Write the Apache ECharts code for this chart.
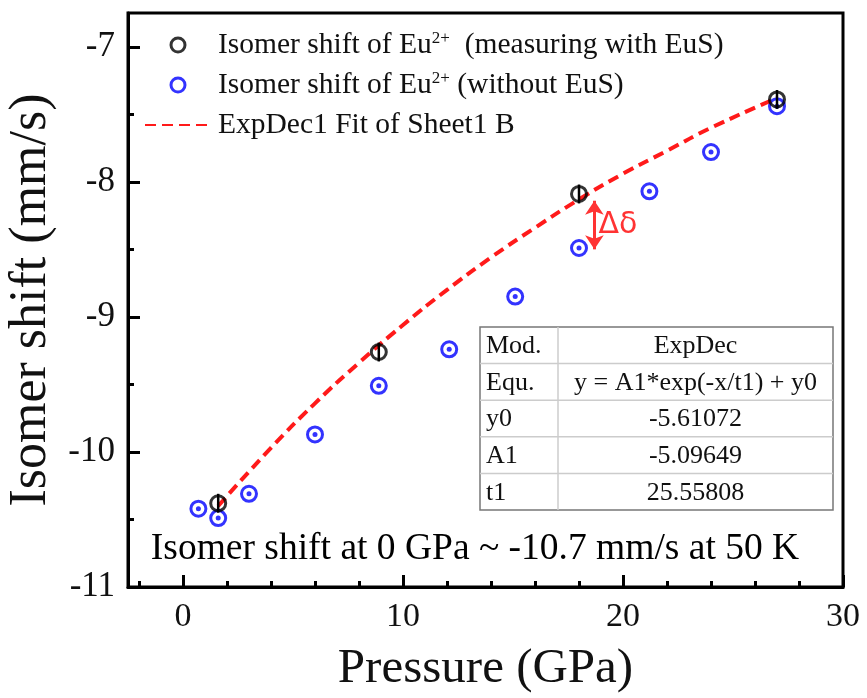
<!DOCTYPE html>
<html>
<head>
<meta charset="utf-8">
<script src="https://cdn.jsdelivr.net/npm/echarts@6/dist/echarts.min.js"></script>
<style>html,body{margin:0;padding:0;background:#fff}#c{width:867px;height:698px}</style>
</head>
<body>
<div id="c"></div>
<script>
// ---- data ----
const withEuS_x = [1.6, 8.9, 18.0, 27.0];
const withEuS_y = [-10.38, -9.26, -8.09, -7.39];
const withEuS_err = [0.07, 0.07, 0.07, 0.07];
const withoutEuS_x = [0.7, 1.6, 3.0, 6.0, 8.9, 12.1, 15.1, 18.0, 21.2, 24.0, 27.0];
const withoutEuS_y = [-10.42, -10.49, -10.31, -9.87, -9.51, -9.24, -8.85, -8.49, -8.07, -7.78, -7.44];
const fit_x = [1.6, 4, 6, 8, 10, 12, 14, 16, 18, 20, 22, 24, 27];
const fit_y = [-10.40, -9.97, -9.64, -9.34, -9.06, -8.80, -8.56, -8.34, -8.13, -7.94, -7.77, -7.60, -7.38];
const xMajorTicks = [0, 10, 20, 30];
const xMinorTicks = [-2, 2, 4, 6, 8, 12, 14, 16, 18, 22, 24, 26, 28];
const yMajorTicks = [-11, -10, -9, -8, -7];
const yMinorTicks = [-10.5, -9.5, -8.5, -7.5];
const deltaArrow = [[18.7, -8.14], [18.7, -8.50]];
const tableRows = [
  ['Mod.', 'ExpDec'],
  ['Equ.', 'y = A1*exp(-x/t1) + y0'],
  ['y0', '-5.61072'],
  ['A1', '-5.09649'],
  ['t1', '25.55808']
];
const noteText = 'Isomer shift at 0 GPa ~ -10.7 mm/s at 50 K';
const seriesNames = ['Isomer shift of Eu2+  (measuring with EuS)', 'Isomer shift of Eu2+ (without EuS)', 'ExpDec1 Fit of Sheet1 B'];

const FONT = '"Liberation Serif", "Times New Roman", serif';
const chart = echarts.init(document.getElementById('c'), null, {renderer: 'canvas'});

const G = {left: 128, top: 13, right: 867 - 843, bottom: 698 - 587};
const zip = (a, b) => a.map((v, i) => [v, b[i]]);
const BLUE = '#0000ff';

// table graphic
const tL = 480, tR = 833, tT = 327, rowH = 36.6, colX = 558;
const tableEls = [];
tableEls.push({type: 'rect', shape: {x: tL, y: tT, width: tR - tL, height: rowH * tableRows.length},
  style: {fill: '#fff', stroke: '#777', lineWidth: 1.5}, z: 50});
for (let i = 1; i < tableRows.length; i++) {
  tableEls.push({type: 'line', shape: {x1: tL, y1: tT + rowH * i, x2: tR, y2: tT + rowH * i},
    style: {stroke: '#ccc', lineWidth: 1.5}, z: 51});
}
tableEls.push({type: 'line', shape: {x1: colX, y1: tT, x2: colX, y2: tT + rowH * tableRows.length},
  style: {stroke: '#ccc', lineWidth: 1.5}, z: 51});
tableRows.forEach((r, i) => {
  tableEls.push({type: 'text', x: tL + 6, y: tT + rowH * i + rowH / 2 + 1,
    style: {text: r[0], font: '26px ' + FONT, fill: '#111', verticalAlign: 'middle', align: 'left'}, z: 52});
  tableEls.push({type: 'text', x: (colX + tR) / 2, y: tT + rowH * i + rowH / 2 + 1,
    style: {text: r[1], font: '26px ' + FONT, fill: '#111', verticalAlign: 'middle', align: 'center'}, z: 52});
});
tableEls.push({type: 'text', x: 475, y: 549,
  style: {text: noteText, font: '37.5px ' + FONT, fill: '#000', verticalAlign: 'middle', align: 'center'}, z: 52});

const option = {
  animation: false,
  backgroundColor: '#fff',
  grid: Object.assign({show: true, borderColor: '#000', borderWidth: 3, backgroundColor: 'transparent', outerBoundsMode: 'none', containLabel: false}, G),
  legend: {
    orient: 'vertical', left: 139, top: 25, itemWidth: 66, itemHeight: 14, itemGap: 9,
    data: [
      {name: seriesNames[0], itemStyle: {borderWidth: 3, borderColor: '#000', color: 'rgba(255,255,255,0)'}},
      {name: seriesNames[1], itemStyle: {borderWidth: 3, borderColor: BLUE, color: 'rgba(255,255,255,0)'}},
      {name: seriesNames[2], itemStyle: {opacity: 0}}
    ],
    formatter: function (name) {
      if (name.indexOf('Eu2+') >= 0) {
        const parts = name.split('Eu2+');
        return '{t|' + parts[0] + 'Eu}{s|2+}{t|' + parts[1] + '}';
      }
      return '{t|' + name + '}';
    },
    textStyle: {
      fontFamily: FONT, fontSize: 29.5, color: '#111', padding: [0, 0, 0, 2], lineHeight: 30,
      rich: {
        t: {fontFamily: FONT, fontSize: 29.5, color: '#111', lineHeight: 30},
        s: {fontFamily: FONT, fontSize: 17, color: '#111', verticalAlign: 'top', lineHeight: 30, padding: [0, 0, 14, 0]}
      }
    }
  },
  xAxis: [{
    type: 'value', min: -2.5, max: 30, gridIndex: 0,
    name: 'Pressure (GPa)', nameLocation: 'middle', nameGap: 58,
    nameTextStyle: {fontFamily: FONT, fontSize: 49, color: '#111'},
    axisLine: {show: true, onZero: false, lineStyle: {color: '#000', width: 3}},
    axisTick: {show: true, inside: true, length: 12, customValues: xMajorTicks, lineStyle: {color: '#000', width: 3}},
    axisLabel: {customValues: xMajorTicks, fontFamily: FONT, fontSize: 34, color: '#111', margin: 13},
    splitLine: {show: false}
  }, {
    type: 'value', min: -2.5, max: 30, gridIndex: 0, position: 'bottom',
    axisLine: {show: false, onZero: false},
    axisTick: {show: true, inside: true, length: 6, customValues: xMinorTicks, lineStyle: {color: '#000', width: 3}},
    axisLabel: {show: false},
    splitLine: {show: false}
  }],
  yAxis: [{
    type: 'value', min: -11, max: -6.75,
    name: 'Isomer shift (mm/s)', nameLocation: 'middle', nameGap: 64,
    nameTextStyle: {fontFamily: FONT, fontSize: 52, color: '#111'},
    axisLine: {show: true, onZero: false, lineStyle: {color: '#000', width: 3}},
    axisTick: {show: true, inside: true, length: 12, customValues: yMajorTicks, lineStyle: {color: '#000', width: 3}},
    axisLabel: {customValues: yMajorTicks, fontFamily: FONT, fontSize: 35, color: '#111', margin: 13},
    splitLine: {show: false}
  }, {
    type: 'value', min: -11, max: -6.75, position: 'left',
    axisLine: {show: false, onZero: false},
    axisTick: {show: true, inside: true, length: 6, customValues: yMinorTicks, lineStyle: {color: '#000', width: 3}},
    axisLabel: {show: false},
    splitLine: {show: false}
  }],
  graphic: tableEls,
  series: [
    {
      name: seriesNames[2], type: 'line', smooth: true, symbol: 'none',
      data: zip(fit_x, fit_y), z: 5,
      lineStyle: {color: '#ff1a1a', width: 4, type: [11, 6]},
      itemStyle: {color: '#ff1a1a'},
      markLine: {
        silent: true, symbol: ['arrow', 'arrow'], symbolSize: [14, 14],
        lineStyle: {color: '#ff3333', width: 3, type: 'solid'},
        label: {show: false},
        data: [[{coord: deltaArrow[0]}, {coord: deltaArrow[1]}]]
      },
      markPoint: {
        silent: true, symbol: 'circle', symbolSize: 0,
        label: {show: true, formatter: 'Δδ', fontFamily: '"DejaVu Sans", sans-serif', fontSize: 30, color: '#ff3333', position: 'right', offset: [-2, 0]},
        data: [{coord: [18.75, -8.32]}]
      }
    },
    {
      name: seriesNames[0], type: 'scatter', symbol: 'circle', symbolSize: 15,
      data: zip(withEuS_x, withEuS_y), z: 6,
      itemStyle: {color: 'rgba(255,255,255,0)', borderColor: '#000', borderWidth: 3}
    },
    {
      name: 'errbar', type: 'custom', z: 7,
      data: withEuS_x.map((x, i) => [x, withEuS_y[i] - withEuS_err[i], withEuS_y[i] + withEuS_err[i]]),
      renderItem: function (params, api) {
        const p1 = api.coord([api.value(0), api.value(1)]);
        const p2 = api.coord([api.value(0), api.value(2)]);
        return {type: 'line', shape: {x1: p1[0], y1: p1[1], x2: p2[0], y2: p2[1]},
          style: {stroke: '#000', lineWidth: 2.5}};
      }
    },
    {
      name: seriesNames[1], type: 'scatter', symbol: 'circle', symbolSize: 15,
      data: zip(withoutEuS_x, withoutEuS_y), z: 4,
      itemStyle: {color: 'rgba(255,255,255,0)', borderColor: BLUE, borderWidth: 3}
    },
    {
      name: 'dot', type: 'scatter', symbol: 'circle', symbolSize: 5,
      data: zip(withoutEuS_x, withoutEuS_y), z: 4,
      itemStyle: {color: BLUE}
    }
  ]
};
chart.setOption(option);
</script>
</body>
</html>
